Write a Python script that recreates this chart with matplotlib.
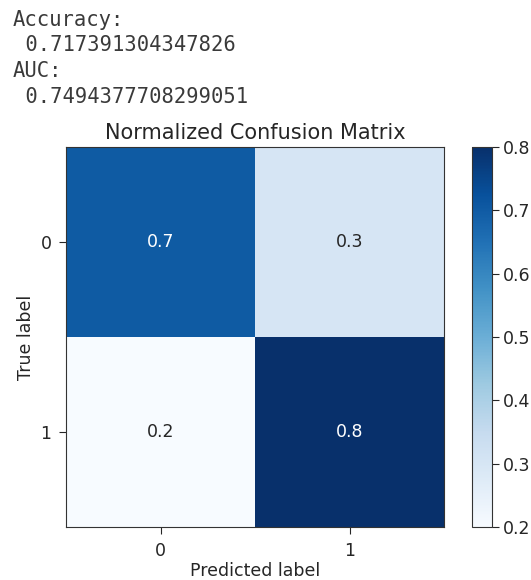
import numpy as np
import matplotlib
matplotlib.use('Agg')
import matplotlib.pyplot as plt


# 数据
classes = ['0', '1']
cm_values = [[0.7, 0.3],
             [0.2, 0.8]]
accuracy = '0.717391304347826'
auc = '0.7494377708299051'


fig = plt.figure(figsize=(5.31, 5.80), dpi=100)

# notebook 输出文本
mono = dict(family='DejaVu Sans Mono', fontsize=14.8, color='#3a3a3a', va='center', ha='left')
fig.text(13 / 531, 1 - 20 / 580, 'Accuracy:', **mono)
fig.text(13 / 531, 1 - 45 / 580, ' ' + accuracy, **mono)
fig.text(13 / 531, 1 - 71 / 580, 'AUC:', **mono)
fig.text(13 / 531, 1 - 97 / 580, ' ' + auc, **mono)

cm = np.array(cm_values)
ax = fig.add_axes([66 / 531, 53 / 580, 378 / 531, 380 / 580])
cax = fig.add_axes([472 / 531, 53 / 580, 20 / 531, 380 / 580])

fs = 12.5
im = ax.imshow(cm, interpolation='nearest', cmap=plt.cm.Blues, aspect='auto')
ax.set_title('Normalized Confusion Matrix', fontsize=15, color='#262626', pad=6)
cb = fig.colorbar(im, cax=cax)
cb.ax.tick_params(labelsize=fs, colors='#262626', length=5, pad=3)
cb.outline.set_edgecolor('#333333')

ticks = np.arange(len(classes))
ax.set_xticks(ticks)
ax.set_xticklabels(classes)
ax.set_yticks(ticks)
ax.set_yticklabels(classes)
ax.tick_params(labelsize=fs, colors='#262626', length=5, pad=5.5)

thresh = cm.max() / 2.
for i in range(cm.shape[0]):
    for j in range(cm.shape[1]):
        ax.text(j, i, format(cm[i, j], '.1f'), ha='center', va='center', fontsize=fs,
                color='white' if cm[i, j] > thresh else '#262626')

ax.set_ylabel('True label', fontsize=fs, color='#262626')
ax.set_xlabel('Predicted label', fontsize=fs, color='#262626', labelpad=1.5)
for s in ax.spines.values():
    s.set_edgecolor('#333333')

plt.savefig('out.png', dpi=100)
plt.close()
